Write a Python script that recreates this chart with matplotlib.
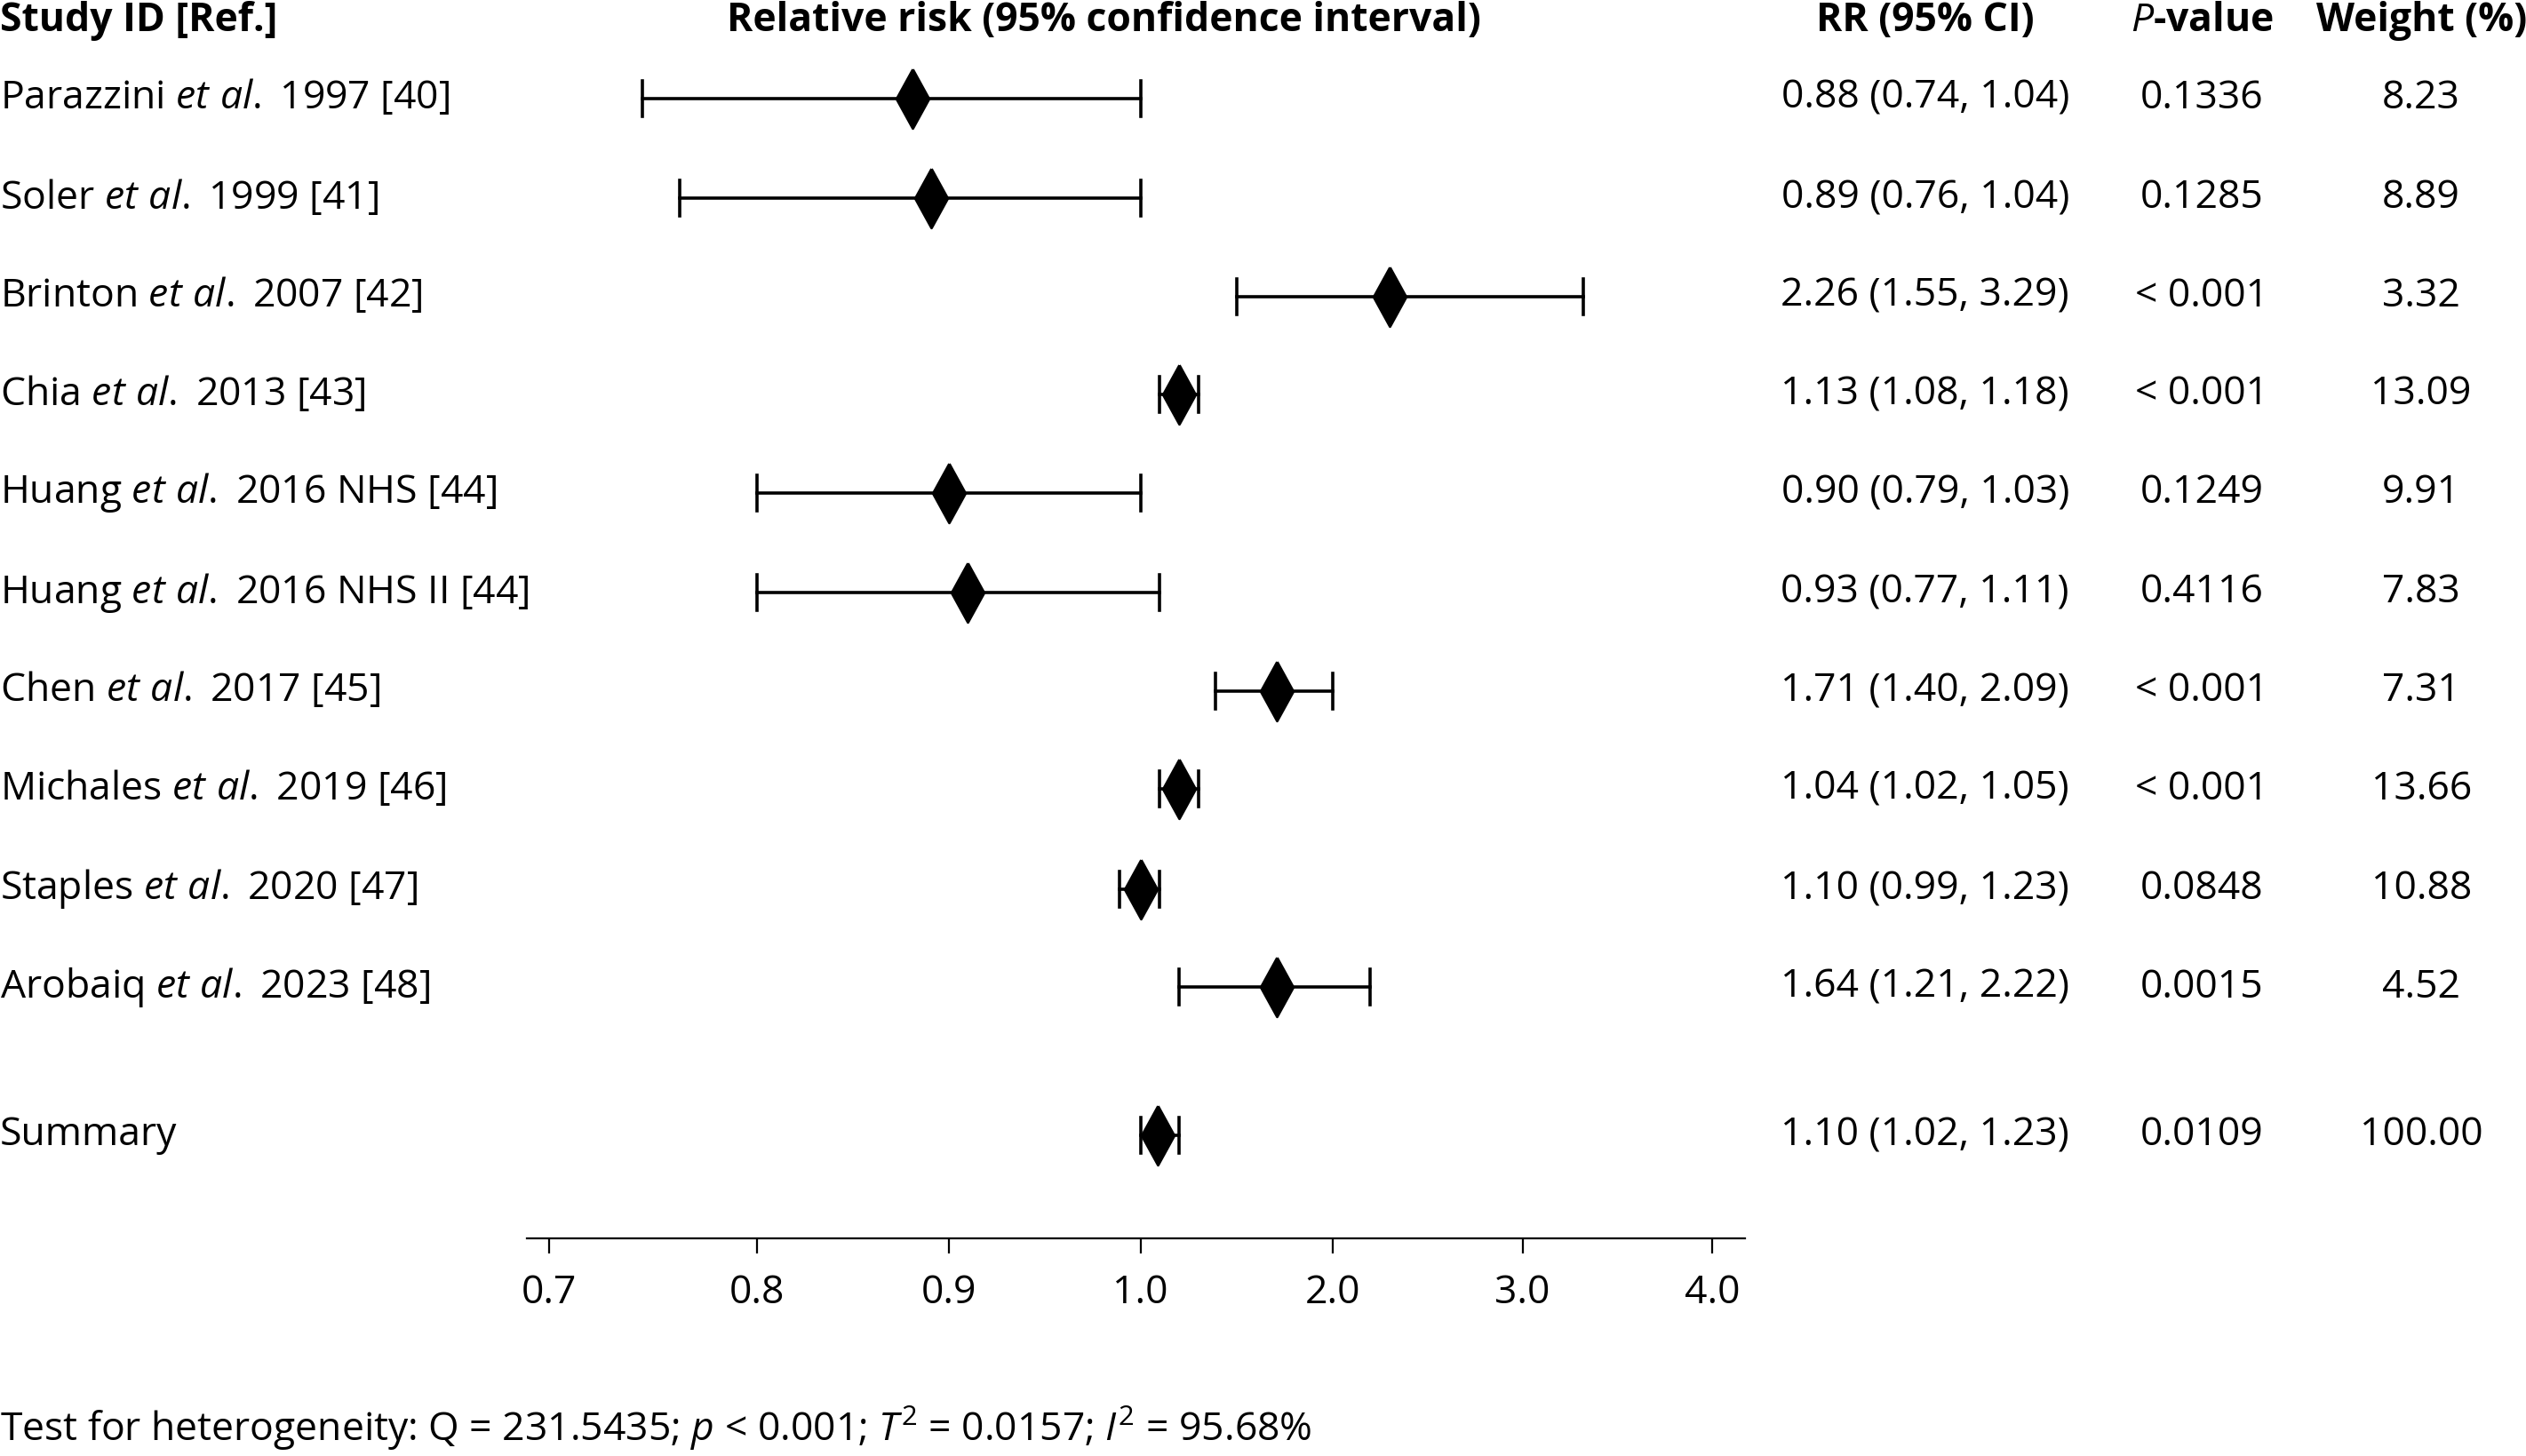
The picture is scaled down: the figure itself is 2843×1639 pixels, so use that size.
import numpy as np
import matplotlib
matplotlib.use("Agg")
import matplotlib.pyplot as plt

plt.rcParams["font.family"] = "Open Sans"
plt.rcParams["mathtext.fontset"] = "custom"
plt.rcParams["mathtext.rm"] = "Open Sans"
plt.rcParams["mathtext.it"] = "Open Sans:italic"
plt.rcParams["mathtext.bf"] = "Open Sans:bold"

studies = [
    r"Parazzini $\it{et\ al.}$ 1997 [40]",
    r"Soler $\it{et\ al.}$ 1999 [41]",
    r"Brinton $\it{et\ al.}$ 2007 [42]",
    r"Chia $\it{et\ al.}$ 2013 [43]",
    r"Huang $\it{et\ al.}$ 2016 NHS [44]",
    r"Huang $\it{et\ al.}$ 2016 NHS II [44]",
    r"Chen $\it{et\ al.}$ 2017 [45]",
    r"Michales $\it{et\ al.}$ 2019 [46]",
    r"Staples $\it{et\ al.}$ 2020 [47]",
    r"Arobaiq $\it{et\ al.}$ 2023 [48]",
    "Summary",
]
# positions as drawn on the (non-linear) axis
point = [0.881, 0.891, 2.30, 1.20, 0.90, 0.91, 1.71, 1.20, 1.00, 1.71, 1.09]
lower = [0.745, 0.763, 1.50, 1.10, 0.80, 0.80, 1.39, 1.10, 0.989, 1.20, 1.00]
upper = [1.00, 1.00, 3.32, 1.30, 1.00, 1.10, 2.00, 1.30, 1.10, 2.20, 1.20]
rr_text = ["0.88 (0.74, 1.04)", "0.89 (0.76, 1.04)", "2.26 (1.55, 3.29)",
           "1.13 (1.08, 1.18)", "0.90 (0.79, 1.03)", "0.93 (0.77, 1.11)",
           "1.71 (1.40, 2.09)", "1.04 (1.02, 1.05)", "1.10 (0.99, 1.23)",
           "1.64 (1.21, 2.22)", "1.10 (1.02, 1.23)"]
p_text = ["0.1336", "0.1285", "< 0.001", "< 0.001", "0.1249", "0.4116",
          "< 0.001", "< 0.001", "0.0848", "0.0015", "0.0109"]
weights = ["8.23", "8.89", "3.32", "13.09", "9.91", "7.83", "7.31",
           "13.66", "10.88", "4.52", "100.00"]
tick_vals = [0.7, 0.8, 0.9, 1.0, 2.0, 3.0, 4.0]
# tick spots along the axis (first gap is a bit wider in the original)
tick_pos = [0, 1.07, 2.06, 3.05, 4.04, 5.02, 6.0]

W, H = 1568, 904
row_y = [61, 123, 184, 245, 306, 368, 429, 490, 552, 613, 705]

fig = plt.figure(figsize=(14.215, 8.195), dpi=200)
bg = fig.add_axes([0, 0, 1, 1])
bg.set_xlim(0, W)
bg.set_ylim(H, 0)
bg.axis("off")

fs = 16
hdr = dict(fontsize=fs, fontweight="bold", va="center")
bg.text(0, 13, "Study ID [Ref.]", ha="left", **hdr)
bg.text(685, 13, "Relative risk (95% confidence interval)", ha="center", **hdr)
bg.text(1195, 13, "RR (95% CI)", ha="center", **hdr)
bg.text(1367, 13, r"$\mathbf{\it{P}}$-value", ha="center", **hdr)
bg.text(1503, 13, "Weight (%)", ha="center", **hdr)

for i, y in enumerate(row_y):
    bg.text(0, y, studies[i], ha="left", va="center", fontsize=fs)
    bg.text(1195, y, rr_text[i], ha="center", va="center", fontsize=fs)
    bg.text(1367, y, p_text[i], ha="center", va="center", fontsize=fs)
    bg.text(1503, y, weights[i], ha="center", va="center", fontsize=fs)

bg.text(0, 887, r"Test for heterogeneity: Q = 231.5435; $\it{p}$ < 0.001; $\it{T}^2$ = 0.0157; $\it{I}^2$ = 95.68%",
        ha="left", va="center", fontsize=fs)

# forest axes: ticks nearly equally spaced, values mapped piecewise
x0, x1 = 327, 1083
ax = fig.add_axes([x0 / W, 0, (x1 - x0) / W, 1])
ax.patch.set_alpha(0)
m = lambda v: np.interp(v, tick_vals, tick_pos)
unit = (1063 - 341) / 6.0
ax.set_xlim(-(341 - x0) / unit, (x1 - 341) / unit)
ax.set_ylim(H, 0)
for s in ["top", "left", "right"]:
    ax.spines[s].set_visible(False)
ax.spines["bottom"].set_position(("data", 769))
ax.set_yticks([])
ax.set_xticks(tick_pos)
ax.set_xticklabels([f"{v:.1f}" for v in tick_vals], fontsize=fs)
ax.tick_params(axis="x", direction="out", length=6, pad=8)

diamond = [(0, 1), (0.55, 0), (0, -1), (-0.55, 0), (0, 1)]
for i, y in enumerate(row_y):
    lo, hi, pt = m(lower[i]), m(upper[i]), m(point[i])
    ax.plot([lo, hi], [y, y], color="black", lw=1.3)
    ax.plot([lo, lo], [y - 11, y + 11], color="black", lw=1.3)
    ax.plot([hi, hi], [y - 11, y + 11], color="black", lw=1.3)
    ax.plot([pt], [y], marker=diamond, markersize=24, color="black")

fig.savefig("out.png", dpi=200)
